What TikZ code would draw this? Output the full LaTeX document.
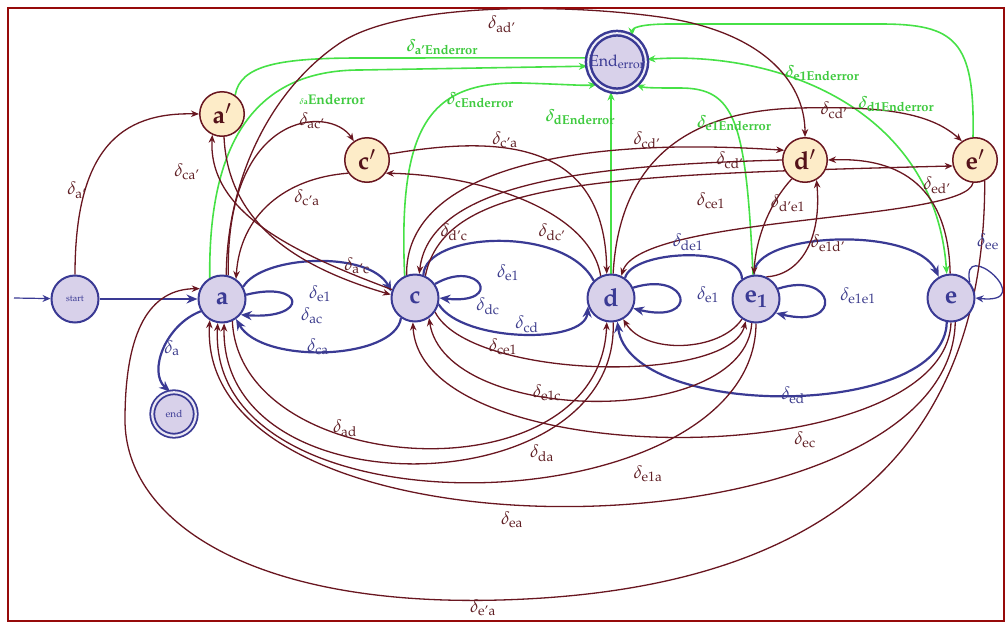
\documentclass[tikz,border=0pt]{standalone}
\usepackage[T1]{fontenc}
\usepackage{mathpazo}
\usepackage{amsmath}
\usetikzlibrary{arrows.meta}

\definecolor{stblue}{RGB}{58,58,148}
\definecolor{stfill}{RGB}{216,209,234}
\definecolor{prfill}{RGB}{253,236,200}
\definecolor{maroon}{RGB}{105,22,32}
\definecolor{errgreen}{RGB}{70,225,70}
\definecolor{framered}{RGB}{150,10,10}
\definecolor{lblblue}{RGB}{60,60,140}
\definecolor{lblbrown}{RGB}{95,30,35}

\pgfdeclarelayer{bg}
\pgfsetlayers{bg,main}

% transition label: delta with a roman subscript
\newcommand{\dlt}[1]{$\delta_{\text{#1}}$}

\tikzset{
  state/.style={circle, draw=stblue, line width=2pt, fill=stfill, minimum size=47pt,
    inner sep=0pt, text=stblue, font=\fontsize{25}{25}\selectfont\bfseries},
  final/.style={circle, draw=stblue, double=stfill!50!white, double distance=2.2pt,
    line width=1.8pt, fill=stfill, minimum size=43.5pt, inner sep=0pt, text=stblue,
    font=\fontsize{10}{10}\selectfont},
  errstate/.style={circle, draw=stblue, double=stfill!40!white, double distance=2pt,
    line width=2.5pt, fill=stfill, minimum size=55pt, inner sep=0pt, text=stblue,
    font=\fontsize{16}{16}\selectfont},
  prime/.style={circle, draw=maroon, line width=1.5pt, fill=prfill, minimum size=44.5pt,
    inner sep=0pt, text=maroon!80!black, font=\fontsize{25}{25}\selectfont\bfseries},
  tr/.style={draw=maroon, line width=1.3pt, -{Stealth[length=8pt,width=6.5pt]}},
  bt/.style={draw=stblue, line width=2.2pt, -{Stealth[length=11pt,width=9pt]}},
  gt/.style={draw=errgreen, line width=1.6pt, -{Stealth[length=8.5pt,width=7pt]}},
  bl/.style={text=lblblue, inner sep=0pt, font=\fontsize{18}{18}\selectfont},
  rl/.style={text=lblbrown, inner sep=0pt, font=\fontsize{18}{18}\selectfont},
  gl/.style={text=errgreen!90!black, inner sep=0pt, font=\fontsize{17}{17}\selectfont\bfseries\boldmath},
}

\begin{document}
\begin{tikzpicture}[x=1pt,y=-1pt]
\useasboundingbox (0,0) rectangle (1008,624);

% ---------- states ----------
\node[state] (start) at (75,299) {\fontsize{9}{9}\selectfont\mdseries start};
\node[state] (a) at (222,299) {a};
\node[final] (end) at (174,414) {end};
\node[state] (c) at (415,298) {c};
\node[state] (d) at (611,298) {d};
\node[state] (e1) at (756,299) {e$_{\mathbf{1}}$};
\node[state] (e) at (951,298) {e};
\node[prime] (ap) at (222,114) {a$'$};
\node[prime] (cp) at (367,160) {c$'$};
\node[prime] (dp) at (805,160) {d$'$};
\node[prime] (ep) at (975,160) {e$'$};
\node[errstate] (End) at (617,62) {End$_{\text{error}}$};
\coordinate (in) at (14,298);

\begin{pgfonlayer}{bg}
% ---------- main transitions (blue) ----------
\draw[bt, line width=1.2pt, -{Stealth[length=8pt,width=7pt]}] (in) -- (start);
\draw[bt] (start) -- (a);
\draw[bt] (a.210) .. controls (165,325) and (148,372) .. (end.100);
\draw[bt] (a.10) .. controls (305,280) and (310,320) .. (a.-40);
\draw[bt] (a.30) .. controls (262,255) and (370,250) .. (c.165);
\draw[bt] (c.235) .. controls (395,360) and (262,365) .. (a.-55);
\draw[bt] (c.35) .. controls (480,258) and (505,305) .. (c.0);
\draw[bt, -] (c.70) .. controls (425,232) and (565,225) .. (d.135);
\draw[bt] (c.-15) .. controls (462,342) and (585,345) .. (d.-160);
\draw[bt] (d.25) .. controls (690,270) and (700,325) .. (d.-25);
\draw[bt, -] (d.55) .. controls (632,250) and (742,245) .. (e1.125);
\draw[bt] (e1.25) .. controls (835,270) and (845,330) .. (e1.-35);
\draw[bt] (e1.95) .. controls (752,232) and (915,225) .. (e.120);
\draw[bt, line width=1.3pt, -{Stealth[length=8pt,width=7pt]}] (e.40) .. controls (960,235) and (1040,305) .. (e.0);
\draw[bt] (e.-100) .. controls (945,420) and (630,420) .. (d.-75);

% ---------- error transitions (green) ----------
\draw[gt, -] (ap.55) .. controls (240,65) and (280,58) .. (360,58) -- (End.172);
\draw[gt] (a.120) .. controls (208,125) and (268,70) .. (360,70) -- (End.188);
\draw[gt] (c.115) .. controls (398,125) and (430,82) .. (520,83) .. controls (560,84) and (585,86) .. (End.228);
\draw[gt] (d.north) -- (d.north |- End.south);
\draw[gt] (e1.97) .. controls (746,120) and (735,88) .. (680,88) .. controls (660,88) and (645,88) .. (End.-50);
\draw[gt, {Stealth[length=8.5pt,width=7pt]}-{Stealth[length=8.5pt,width=7pt]}] (End.5) .. controls (780,50) and (935,110) .. (e.100);
\draw[gt] (ep.95) .. controls (975,40) and (955,24) .. (880,24) -- (670,24) .. controls (640,24) and (632,28) .. (End.60);

% ---------- other transitions (maroon) ----------
\draw[tr] (start.north) .. controls (75,150) and (120,112) .. (ap.west);
\draw[tr] (ap.-85) .. controls (228,225) and (300,268) .. (c.172);
\draw[tr] (c.160) .. controls (300,255) and (208,215) .. (ap.-115);
\draw[tr] (a.80) .. controls (227,180) and (270,90) .. (340,43) .. controls (400,3) and (560,3) .. (660,17) .. controls (760,31) and (805,80) .. (dp.north);
\draw[tr] (a.75) .. controls (225,110) and (330,105) .. (cp.125);
\draw[tr] (cp.215) .. controls (285,178) and (240,215) .. (a.55);
\draw[tr] (cp.15) .. controls (500,135) and (605,140) .. (d.100);
\draw[tr] (d.115) .. controls (590,210) and (480,175) .. (cp.-35);
\draw[tr] (c.110) .. controls (405,175) and (560,135) .. (dp.155);
\draw[tr] (dp.180) .. controls (600,165) and (430,180) .. (c.80);
\draw[tr] (c.65) .. controls (445,180) and (600,175) .. (ep.195);
\draw[tr] (d.85) .. controls (620,150) and (700,110) .. (800,108) .. controls (880,106) and (930,112) .. (ep.125);
\draw[tr] (ep.-95) .. controls (965,222) and (640,215) .. (d.65);
\draw[tr] (dp.235) .. controls (772,200) and (756,235) .. (e1.95);
\draw[tr] (e1.65) .. controls (800,275) and (822,240) .. (dp.-60);
\draw[tr] (e.92) .. controls (948,170) and (880,158) .. (dp.east);
\draw[tr] (ep.-65) .. controls (985,420) and (860,590) .. (500,600) .. controls (250,607) and (125,520) .. (125,420) .. controls (125,330) and (150,289) .. (a.155);
\draw[tr] (a.-65) .. controls (240,480) and (600,500) .. (d.-100);
\draw[tr] (d.-85) .. controls (620,505) and (220,515) .. (a.-85);
\draw[tr] (e1.-90) .. controls (755,525) and (205,545) .. (a.-100);
\draw[tr] (e.-80) .. controls (950,560) and (195,575) .. (a.-120);
\draw[tr] (e.-90) .. controls (945,475) and (420,475) .. (c.-95);
\draw[tr] (e1.-125) .. controls (720,352) and (645,355) .. (d.-60);
\draw[tr] (c.-35) .. controls (470,380) and (730,385) .. (e1.-115);
\draw[tr] (e1.-100) .. controls (745,430) and (445,425) .. (c.-55);
\end{pgfonlayer}

% ---------- labels ----------
\node[bl] (l01) at (172,348) {\dlt{a}};
\node[bl] (l02) at (320,294) {\dlt{e1}};
\node[bl] (l03) at (312,316) {\dlt{ac}};
\node[bl] (l04) at (318,347) {\dlt{ca}};
\node[bl] (l05) at (508,273) {\dlt{e1}};
\node[bl] (l06) at (488,306) {\dlt{dc}};
\node[bl] (l07) at (527,324) {\dlt{cd}};
\node[bl] (l08) at (688,242) {\dlt{de1}};
\node[bl] (l09) at (708,295) {\dlt{e1}};
\node[bl] (l10) at (858,296) {\dlt{e1e1}};
\node[bl] (l11) at (793,395) {\dlt{ed}};
\node[bl] (l12) at (988,242) {\dlt{ee}};

\node[rl] (l13) at (77,190) {\dlt{a'}};
\node[rl] (l14) at (187,172) {\dlt{ca'}};
\node[rl] (l15) at (312,121) {\dlt{ac'}};
\node[rl] (l16) at (307,198) {\dlt{c'a}};
\node[rl] (l17) at (357,266) {\dlt{a'c}};
\node[rl] (l18) at (502,24) {\dlt{ad'}};
\node[rl] (l19) at (505,140) {\dlt{c'a}};
\node[rl] (l20) at (454,232) {\dlt{d'c}};
\node[rl] (l21) at (552,232) {\dlt{dc'}};
\node[rl] (l22) at (647,140) {\dlt{cd'}};
\node[rl] (l23) at (730,160) {\dlt{cd'}};
\node[rl] (l24) at (711,201) {\dlt{ce1}};
\node[rl] (l25) at (788,203) {\dlt{d'e1}};
\node[rl] (l26) at (834,110) {\dlt{cd'}};
\node[rl] (l27) at (937,185) {\dlt{ed'}};
\node[rl] (l28) at (828,243) {\dlt{e1d'}};
\node[rl] (l29) at (503,347) {\dlt{ce1}};
\node[rl] (l30) at (547,393) {\dlt{e1c}};
\node[rl] (l31) at (345,428) {\dlt{ad}};
\node[rl] (l32) at (542,453) {\dlt{da}};
\node[rl] (l33) at (648,474) {\dlt{e1a}};
\node[rl] (l34) at (805,440) {\dlt{ec}};
\node[rl] (l35) at (512,520) {\dlt{ea}};
\node[rl] (l36) at (483,608) {\dlt{e'a}};

\node[gl] (g1) at (442,47) {\dlt{a'Enderror}};
\node[gl] (g2) at (332,100) {{\fontsize{8}{8}\selectfont$\delta$a}\fontsize{14}{14}\selectfont Enderror};
\node[gl] (g3) at (480,100) {\dlt{cEnderror}};
\node[gl] (g4) at (580,117) {\dlt{dEnderror}};
\node[gl] (g5) at (734,123) {\dlt{e1Enderror}};
\node[gl] (g6) at (822,73) {\dlt{e1Enderror}};
\node[gl] (g7) at (896,104) {\dlt{d1Enderror}};

% ---------- frame ----------
\draw[framered, line width=2.5pt] (8,8) rectangle (1004,621);
\end{tikzpicture}
\end{document}
